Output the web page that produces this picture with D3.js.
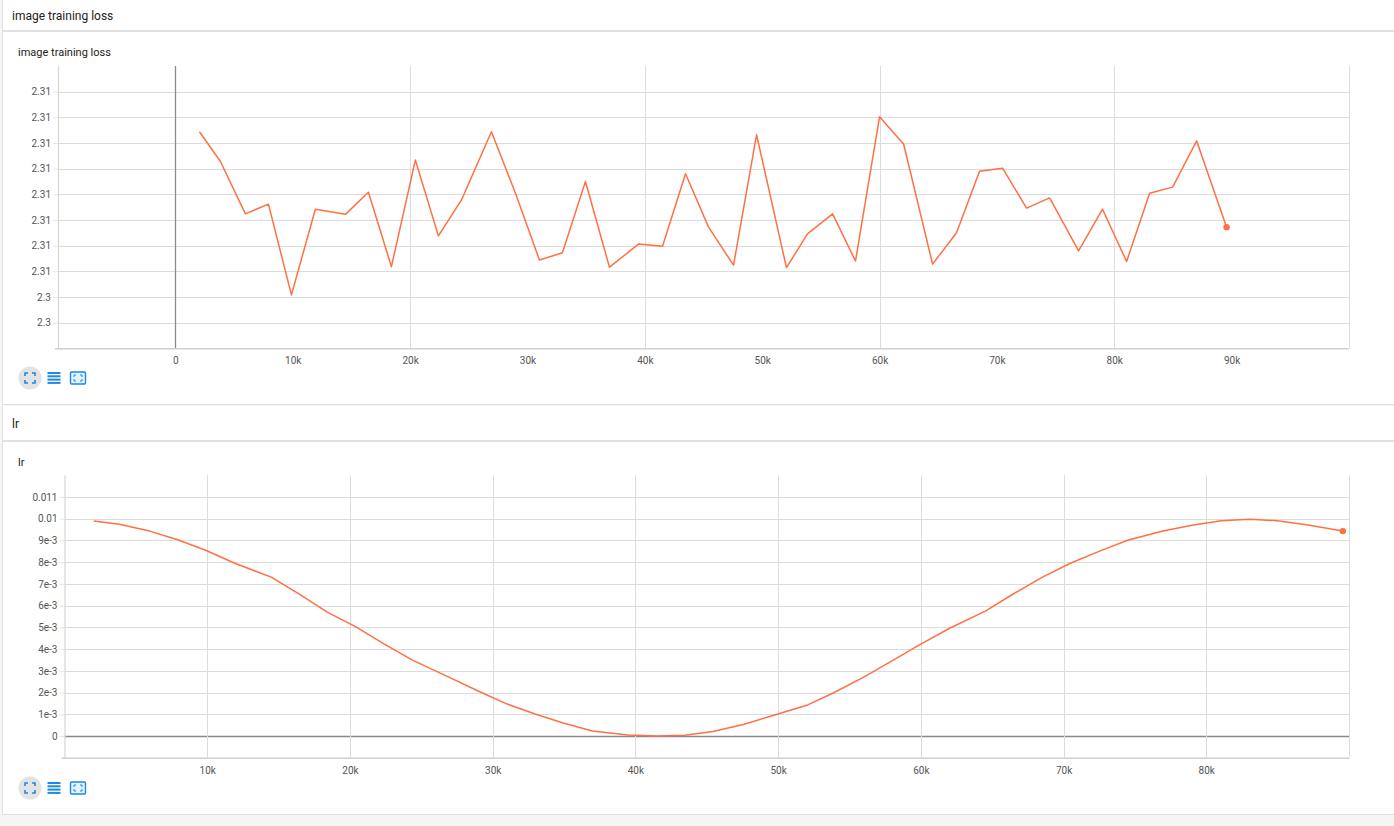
<!DOCTYPE html>
<html>
<head>
<meta charset="utf-8">
<script src="https://cdn.jsdelivr.net/npm/d3@7"></script>
<style>
  body { margin: 0; background: #f5f5f5; font-family: Roboto, "Open Sans", "DejaVu Sans", sans-serif; }
  svg { display: block; }
</style>
</head>
<body>
<svg id="page" width="1394" height="826"></svg>
<script>
// ---------- DATA ----------
const steps = [2050, 3840, 5970, 7930, 9890, 11930, 14490, 16450, 18410, 20450, 22410, 24380,
  26930, 28980, 31020, 32980, 34940, 36990, 39460, 41510, 43470, 45430, 47560, 49520, 52070,
  53860, 56000, 57950, 60000, 62050, 64520, 66560, 68520, 70480, 72530, 74490, 76960, 79000,
  81050, 83010, 84970, 87020, 89570];

const lossValues = [2.30772, 2.30714, 2.30612, 2.30631, 2.30454, 2.30621, 2.30611, 2.30654,
  2.30509, 2.30717, 2.30569, 2.30639, 2.30772, 2.30652, 2.30522, 2.30536, 2.30675, 2.30508,
  2.30553, 2.30549, 2.30690, 2.30586, 2.30512, 2.30766, 2.30507, 2.30573, 2.30612, 2.30520,
  2.30801, 2.30748, 2.30514, 2.30575, 2.30695, 2.30701, 2.30623, 2.30643, 2.30540, 2.30621,
  2.30519, 2.30652, 2.30664, 2.30754, 2.30586];

const lrValues = [0.00990, 0.00975, 0.00943, 0.00903, 0.00855, 0.00795, 0.00731, 0.00653,
  0.00570, 0.00501, 0.00423, 0.00349, 0.00271, 0.00207, 0.00147, 0.00101, 0.00060, 0.00023,
  0.00005, 0.00000, 0.00003, 0.00021, 0.00053, 0.00092, 0.00143, 0.00198, 0.00271, 0.00345,
  0.00423, 0.00497, 0.00575, 0.00657, 0.00731, 0.00795, 0.00851, 0.00901, 0.00943, 0.00970,
  0.00991, 0.00997, 0.00991, 0.00972, 0.00943];

// loss chart axes
const lossXDomain = [-10000, 100000];
const lossYDomain = [2.3035, 2.3090];
const lossXTicks = [0, 10000, 20000, 30000, 40000, 50000, 60000, 70000, 80000, 90000];
const lossXLabels = ["0", "10k", "20k", "30k", "40k", "50k", "60k", "70k", "80k", "90k"];
const lossXGrid = [20000, 40000, 60000, 80000, 100000];
const lossYTicks = [2.3040, 2.3045, 2.3050, 2.3055, 2.3060, 2.3065, 2.3070, 2.3075, 2.3080, 2.3085];
const lossYLabels = ["2.3", "2.3", "2.31", "2.31", "2.31", "2.31", "2.31", "2.31", "2.31", "2.31"];

// lr chart axes
const lrXDomain = [0, 90000];
const lrYDomain = [-0.001, 0.012];
const lrXTicks = [10000, 20000, 30000, 40000, 50000, 60000, 70000, 80000];
const lrXLabels = ["10k", "20k", "30k", "40k", "50k", "60k", "70k", "80k"];
const lrXGrid = [10000, 20000, 30000, 40000, 50000, 60000, 70000, 80000, 90000];
const lrYTicks = [0, 0.001, 0.002, 0.003, 0.004, 0.005, 0.006, 0.007, 0.008, 0.009, 0.010, 0.011];
const lrYLabels = ["0", "1e-3", "2e-3", "3e-3", "4e-3", "5e-3", "6e-3", "7e-3", "8e-3", "9e-3", "0.01", "0.011"];

// ---------- PAGE ----------
const svg = d3.select("#page");
const LINE = "#ff7043";

svg.append("rect").attr("width", 1394).attr("height", 826).attr("fill", "#f5f5f5");

function section(y0, headerH, cardH, title) {
  svg.append("rect").attr("x", 2).attr("y", y0).attr("width", 1392).attr("height", headerH).attr("fill", "#fff");
  svg.append("line").attr("x1", 2).attr("x2", 1394).attr("y1", y0 + headerH + 0.5).attr("y2", y0 + headerH + 0.5)
    .attr("stroke", "#e0e0e0");
  svg.append("text").attr("x", 12).attr("y", y0 + headerH / 2 + 5).attr("font-size", 12).attr("fill", "#212121").text(title);
  svg.append("rect").attr("x", 2.5).attr("y", y0 + headerH + 1.5).attr("width", 1392).attr("height", cardH)
    .attr("fill", "#fff").attr("stroke", "#e0e0e0");
  svg.append("line").attr("x1", 2.5).attr("x2", 2.5).attr("y1", y0).attr("y2", y0 + headerH + 1.5).attr("stroke", "#e0e0e0");
  svg.append("text").attr("x", 18).attr("y", y0 + headerH + 26).attr("font-size", 11).attr("fill", "#212121").text(title);
}

section(0, 30, 373, "image training loss");
section(406, 34, 373, "lr");

function icons(cy) {
  const g = svg.append("g");
  g.append("circle").attr("cx", 30).attr("cy", cy).attr("r", 11.5).attr("fill", "#e3e3e3");
  const blue = "#1e88e5";
  const c = g.append("g").attr("transform", `translate(30,${cy})`).attr("stroke", blue).attr("stroke-width", 1.6).attr("fill", "none");
  c.append("path").attr("d", "M-5,-2 V-5 H-2 M2,-5 H5 V-2 M5,2 V5 H2 M-2,5 H-5 V2");
  for (let i = 0; i < 4; i++) {
    g.append("rect").attr("x", 47.5).attr("y", cy - 6 + i * 3.3).attr("width", 13).attr("height", 2).attr("fill", blue);
  }
  const f = g.append("g").attr("transform", `translate(78,${cy})`);
  f.append("rect").attr("x", -7.5).attr("y", -6).attr("width", 15).attr("height", 12).attr("rx", 1)
    .attr("fill", "#e3f2fd").attr("stroke", blue).attr("stroke-width", 1.4);
  f.append("path").attr("d", "M-4,-1 V-3 H-2 M2,-3 H4 V-1 M4,1 V3 H2 M-2,3 H-4 V1")
    .attr("stroke", blue).attr("stroke-width", 1).attr("fill", "none");
}

function chart(cfg) {
  const x = d3.scaleLinear().domain(cfg.xDomain).range([cfg.left, cfg.right]);
  const y = d3.scaleLinear().domain(cfg.yDomain).range([cfg.bottom, cfg.top]);
  const g = svg.append("g");

  g.selectAll(null).data(cfg.yTicks).join("line")
    .attr("x1", cfg.left).attr("x2", cfg.right)
    .attr("y1", d => Math.round(y(d)) + 0.5).attr("y2", d => Math.round(y(d)) + 0.5)
    .attr("stroke", d => d === 0 ? "#8a8a8a" : "#dcdcdc").attr("stroke-width", d => d === 0 ? 1.3 : 1);
  g.selectAll(null).data(cfg.xGrid).join("line")
    .attr("x1", d => Math.round(x(d)) + 0.5).attr("x2", d => Math.round(x(d)) + 0.5)
    .attr("y1", cfg.top).attr("y2", cfg.bottom)
    .attr("stroke", d => d === 0 ? "#8a8a8a" : "#dcdcdc").attr("stroke-width", d => d === 0 ? 1.3 : 1);

  g.append("line").attr("x1", cfg.left + 0.5).attr("x2", cfg.left + 0.5).attr("y1", cfg.top).attr("y2", cfg.bottom)
    .attr("stroke", "#d6d6d6").attr("stroke-width", 1.2);

  const ya = d3.axisLeft(y).tickValues(cfg.yTicks)
    .tickFormat((d, i) => cfg.yLabels[i]).tickSize(5).tickPadding(2);
  const yg = g.append("g").attr("transform", `translate(${cfg.left},0)`).call(ya);
  yg.select(".domain").remove();
  yg.selectAll(".tick line").attr("stroke", "#e6e6e6");
  yg.selectAll(".tick text").attr("font-size", 10).attr("fill", "#555").attr("font-family", "Roboto, sans-serif");

  const xa = d3.axisBottom(x).tickValues(cfg.xTicks)
    .tickFormat((d, i) => cfg.xLabels[i]).tickSize(0).tickPadding(9);
  const xg = g.append("g").attr("transform", `translate(0,${cfg.bottom})`).call(xa);
  xg.select(".domain").remove();
  xg.selectAll(".tick text").attr("font-size", 10).attr("fill", "#555").attr("font-family", "Roboto, sans-serif");
  g.append("line").attr("x1", cfg.left - 3).attr("x2", cfg.right).attr("y1", cfg.bottom + 0.5).attr("y2", cfg.bottom + 0.5)
    .attr("stroke", "#d0d0d0").attr("stroke-width", 1.5);

  const pts = cfg.xs.map((s, i) => [s, cfg.ys[i]]);
  g.append("path").datum(pts)
    .attr("d", d3.line().x(d => x(d[0])).y(d => y(d[1])))
    .attr("fill", "none").attr("stroke", LINE).attr("stroke-width", 1.5).attr("stroke-linejoin", "round");
  const last = pts[pts.length - 1];
  g.append("circle").attr("cx", x(last[0])).attr("cy", y(last[1])).attr("r", 3.2).attr("fill", LINE);
}

chart({
  left: 58, right: 1349, top: 66, bottom: 348.3,
  xDomain: lossXDomain, yDomain: lossYDomain,
  xTicks: lossXTicks, xLabels: lossXLabels, xGrid: [0].concat(lossXGrid),
  yTicks: lossYTicks, yLabels: lossYLabels,
  xs: steps, ys: lossValues
});
icons(378);

chart({
  left: 64.5, right: 1349, top: 475.25, bottom: 757.75,
  xDomain: lrXDomain, yDomain: lrYDomain,
  xTicks: lrXTicks, xLabels: lrXLabels, xGrid: lrXGrid,
  yTicks: lrYTicks, yLabels: lrYLabels,
  xs: steps, ys: lrValues
});
icons(788);
</script>
</body>
</html>
